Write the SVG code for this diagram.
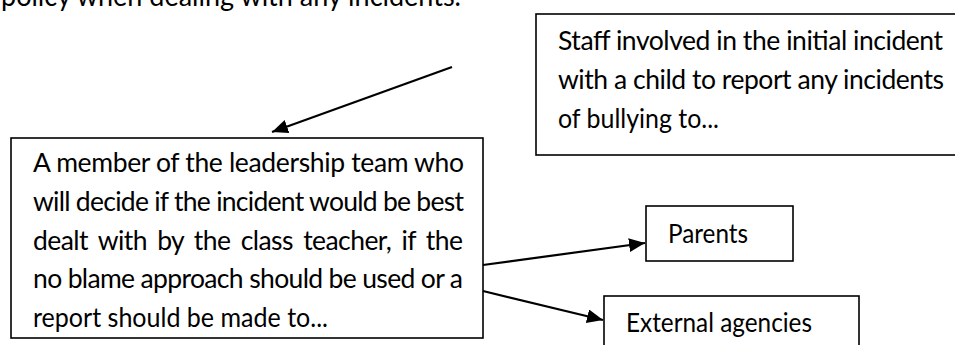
<svg xmlns="http://www.w3.org/2000/svg" width="955" height="345" viewBox="0 0 955 345">
  <defs>
    <style>
      .box { fill: #ffffff; stroke: #000000; stroke-width: 1.6; }
      .t { font-family: Lato, "Open Sans", "Liberation Sans", sans-serif; font-size: 26.5px; fill: #000000; }
      .conn { stroke: #000000; stroke-width: 2.2; fill: none; }
    </style>
    <marker id="ah" markerUnits="userSpaceOnUse" markerWidth="18" markerHeight="16" refX="16" refY="7" orient="auto">
      <path d="M0,0 L16,7 L0,14 z" fill="#000000"/>
    </marker>
  </defs>
  <rect width="955" height="345" fill="#ffffff"/>
  <text class="t" x="1" y="6" style="font-size:28.5px" textLength="460" lengthAdjust="spacingAndGlyphs">policy when dealing with any incidents.</text>

  <g id="staff">
    <rect class="box" x="536" y="14" width="430" height="141"/>
    <text class="t" x="558" y="50" textLength="385" lengthAdjust="spacing">Staff involved in the initial incident</text>
    <text class="t" x="558" y="89" textLength="386" lengthAdjust="spacing">with a child to report any incidents</text>
    <text class="t" x="558" y="128" textLength="161" lengthAdjust="spacingAndGlyphs">of bullying to...</text>
  </g>

  <g id="leadership">
    <rect class="box" x="11" y="138" width="472" height="200"/>
    <text class="t" x="33" y="172" textLength="431" lengthAdjust="spacing">A member of the leadership team who</text>
    <text class="t" x="33" y="211" textLength="431" lengthAdjust="spacing">will decide if the incident would be best</text>
    <text class="t" x="33" y="249.5" textLength="430" lengthAdjust="spacing" word-spacing="4">dealt with by the class teacher, if the</text>
    <text class="t" x="33" y="288" textLength="430" lengthAdjust="spacing">no blame approach should be used or a</text>
    <text class="t" x="33" y="326.5" textLength="295" lengthAdjust="spacingAndGlyphs">report should be made to...</text>
  </g>

  <g id="parents">
    <rect class="box" x="646" y="206" width="147" height="55"/>
    <text class="t" x="668" y="243" textLength="80" lengthAdjust="spacingAndGlyphs">Parents</text>
  </g>

  <g id="external">
    <rect class="box" x="604" y="296" width="255" height="60"/>
    <text class="t" x="626" y="332" textLength="186" lengthAdjust="spacingAndGlyphs">External agencies</text>
  </g>

  <g id="connectors">
    <line class="conn" x1="452" y1="67" x2="272" y2="132" marker-end="url(#ah)"/>
    <line class="conn" x1="483" y1="265" x2="645" y2="243" marker-end="url(#ah)"/>
    <line class="conn" x1="483" y1="291" x2="603" y2="320" marker-end="url(#ah)"/>
  </g>
</svg>
